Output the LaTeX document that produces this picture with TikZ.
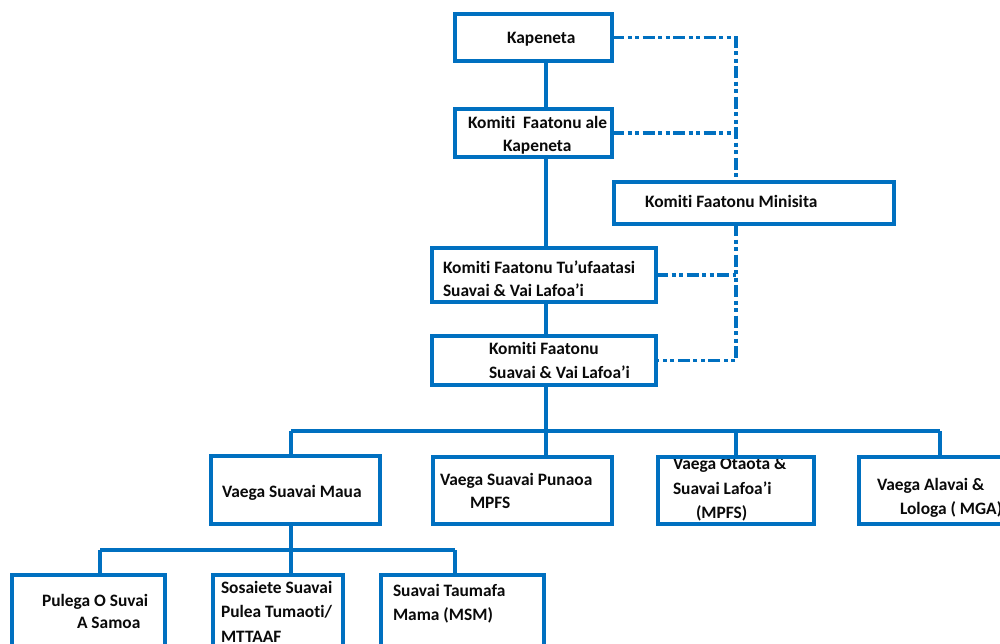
\documentclass[tikz,border=0pt]{standalone}
\usepackage{fontspec}
\setmainfont{Carlito}[RawFeature={-liga;-clig}]
\definecolor{orgblue}{HTML}{0070C0}
\definecolor{txt}{HTML}{0A0A0A}
\begin{document}
\begin{tikzpicture}[x=1pt,y=-1pt,
  box/.style={draw=orgblue, line width=4pt, inner sep=0pt, outer sep=0pt, anchor=north west},
  lbl/.style={anchor=base west, inner sep=0pt, outer sep=0pt, text=txt, font=\fontsize{17.4}{20}\selectfont\bfseries},
  link/.style={draw=orgblue, line width=4pt},
  dotlink/.style={draw=orgblue, line width=3.5pt, dash pattern=on 12pt off 3.5pt on 4pt off 3.5pt on 4pt off 3.5pt}]
\useasboundingbox (0,0) rectangle (1000,643);
\clip (0,0) rectangle (1000,643);
\fill[white] (0,0) rectangle (1000,643);

% labels
\node[lbl] (t1) at (507,43) {Kapeneta};
\node[lbl] (t2) at (468,128) {Komiti\ \ Faatonu ale};
\node[lbl] (t3) at (503,151) {Kapeneta};
\node[lbl] (t4) at (645,207) {Komiti Faatonu Minisita};
\node[lbl] (t5) at (443,273) {Komiti Faatonu Tu’ufaatasi};
\node[lbl] (t6) at (443,296) {Suavai \& Vai Lafoa’i};
\node[lbl] (t7) at (489,354) {Komiti Faatonu};
\node[lbl] (t8) at (489,378) {Suavai \& Vai Lafoa’i};
\node[lbl] (t9) at (222,497) {Vaega Suavai Maua};
\node[lbl] (t10) at (440,485) {Vaega Suavai Punaoa};
\node[lbl] (t11) at (470,508) {MPFS};
\node[lbl] (t12) at (673,469) {Vaega Otaota \&};
\node[lbl] (t13) at (673,494) {Suavai Lafoa’i};
\node[lbl] (t14) at (696,518) {(MPFS)};
\node[lbl] (t15) at (877,490) {Vaega Alavai \&};
\node[lbl] (t16) at (900,514) {Lologa ( MGA)};
\node[lbl] (t17) at (42,606) {Pulega O Suvai};
\node[lbl] (t18) at (77,628) {A Samoa};
\node[lbl] (t19) at (221,593) {Sosaiete Suavai};
\node[lbl] (t20) at (221,617) {Pulea Tumaoti/};
\node[lbl] (t21) at (221,642) {MTTAAF};
\node[lbl] (t22) at (393,596) {Suavai Taumafa};
\node[lbl] (t23) at (393,620) {Mama (MSM)};

% boxes
\node[box, minimum width=157pt, minimum height=47pt] (kap) at (455,14) {};
\node[box, minimum width=157pt, minimum height=48pt] (ale) at (455,109) {};
\node[box, minimum width=280pt, minimum height=42pt] (min) at (614,182) {};
\node[box, minimum width=224pt, minimum height=54pt] (tuu) at (432,248) {};
\node[box, minimum width=224pt, minimum height=49pt] (fat) at (432,336) {};
\node[box, minimum width=169pt, minimum height=68pt] (maua) at (211,456) {};
\node[box, minimum width=179pt, minimum height=67pt] (pun) at (433,457) {};
\node[box, minimum width=156pt, minimum height=67pt] (ota) at (658,457) {};
\node[box, minimum width=170pt, minimum height=67pt] (ala) at (859,457) {};
\node[box, minimum width=153pt, minimum height=90pt] (pul) at (12,575) {};
\node[box, minimum width=130pt, minimum height=90pt] (sos) at (213,575) {};
\node[box, minimum width=163pt, minimum height=90pt] (tau) at (381,575) {};

% reference coordinates
\coordinate (spine) at (546,0);
\coordinate (dl) at (736,0);
\coordinate (bus1) at (0,431);
\coordinate (bus2) at (0,550);
\coordinate (b1l) at (291,431);
\coordinate (b1r) at (940,431);
\coordinate (b2l) at (100,550);
\coordinate (b2r) at (455,550);

% solid hierarchy
\draw[link] (kap.south -| spine) -- (ale.north -| spine);
\draw[link] (ale.south -| spine) -- (tuu.north -| spine);
\draw[link] (tuu.south -| spine) -- (fat.north -| spine);
\draw[link] (fat.south -| spine) -- (bus1 -| spine);
\draw[link] (b1l) -- (b1r);
\draw[link] (b1l) -- (maua.north -| b1l);
\draw[link] (bus1 -| spine) -- (pun.north -| spine);
\draw[link] (bus1 -| dl) -- (ota.north -| dl);
\draw[link] (b1r) -- (ala.north -| b1r);
\draw[link] (maua.south -| b1l) -- (bus2 -| b1l);
\draw[link] (b2l) -- (b2r);
\draw[link] (b2l) -- (pul.north -| b2l);
\draw[link] (bus2 -| b1l) -- (sos.north -| b1l);
\draw[link] (b2r) -- (tau.north -| b2r);

% dash-dot advisory links
\draw[dotlink] (kap.east) -- (kap.east -| dl) -- (min.north -| dl);
\draw[dotlink] (ale.east) -- (ale.east -| dl);
\draw[dotlink] (min.south -| dl) -- (fat.east -| dl) -- (fat.east);
\draw[dotlink] (tuu.east) -- (tuu.east -| dl);
\end{tikzpicture}
\end{document}
